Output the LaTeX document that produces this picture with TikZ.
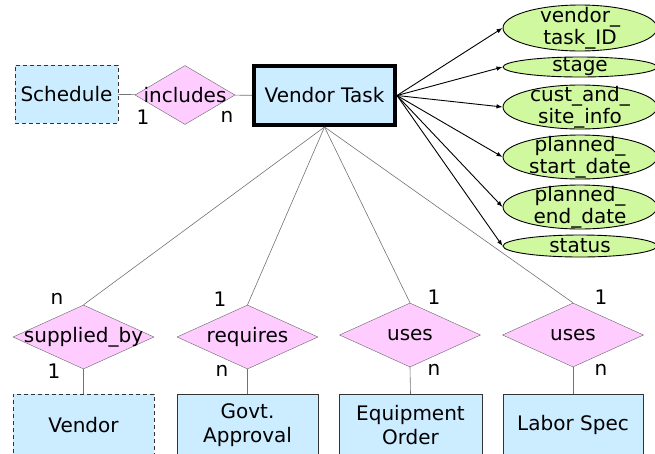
\documentclass[tikz,border=0pt]{standalone}
\usepackage{fontspec}
\setmainfont{DejaVu Sans}
\usetikzlibrary{shapes.geometric,arrows.meta}
\definecolor{entblue}{RGB}{204,236,255}
\definecolor{relpink}{RGB}{255,204,255}
\definecolor{attrgreen}{RGB}{208,248,158}
\begin{document}
\begin{tikzpicture}[x=1pt,y=-1pt,
    every node/.style={font=\fontsize{20}{22}\selectfont},
    entity/.style={rectangle,draw=black!80,fill=entblue,minimum width=141pt,minimum height=62pt,inner sep=0pt,align=center},
    weak/.style={entity,dashed,dash pattern=on 4pt off 3pt},
    rel/.style={diamond,draw=black!60,fill=relpink,minimum width=141pt,minimum height=64pt,inner sep=0pt},
    attr/.style={ellipse,draw=black,line width=0.9pt,fill=attrgreen,minimum width=154pt,inner sep=0pt},
    card/.style={inner sep=0pt},
    link/.style={draw=black!55,line width=0.6pt}]
    \clip (0,0) rectangle (655,453);
    % Draw entities
    \node[weak,minimum width=103pt,minimum height=58pt] (schedule) at (66.5,94) {Schedule};
    \node[entity,draw=black,line width=4pt,minimum width=141pt,minimum height=59pt] (task) at (324.5,95.5) {Vendor Task};
    \node[weak] (vendor) at (83.5,425) {Vendor};
    \node[entity,font=\fontsize{20}{24}\selectfont] (govt) at (247.5,425) {Govt.\\Approval};
    \node[entity,font=\fontsize{20}{24}\selectfont,minimum width=143pt] (equip) at (410.5,425) {Equipment\\Order};
    \node[entity,minimum width=140pt] (labor) at (573,425) {Labor Spec};
    % Draw relationships
    \node[rel,minimum width=100pt,minimum height=59pt,label=center:includes] (includes) at (185,95) {};
    \node[rel,label=center:supplied\_by] (supplied) at (83.5,337) {};
    \node[rel,label=center:requires] (requires) at (247.5,337) {};
    \node[rel,label=center:uses] (usesequip) at (410,335) {};
    \node[rel,label=center:uses] (useslabor) at (573,335) {};
    % Draw attributes
    \node[attr,minimum height=46pt,label={[align=center]center:vendor\_\\task\_ID}] (taskid) at (580,28) {};
    \node[attr,minimum height=20pt,label=center:stage] (stage) at (580,67) {};
    \node[attr,minimum height=44pt,label={[align=center]center:cust\_and\_\\site\_info}] (custinfo) at (580,107) {};
    \node[attr,minimum height=44pt,label={[align=center]center:planned\_\\start\_date}] (startdate) at (580,157) {};
    \node[attr,minimum height=44pt,label={[align=center]center:planned\_\\end\_date}] (enddate) at (580,207) {};
    \node[attr,minimum height=22pt,label=center:status] (status) at (580,246) {};
    % Draw links
    \draw[link] (schedule) -- (includes);
    \draw[link] (includes) -- (task);
    \foreach \r in {supplied,requires,usesequip,useslabor}
        \draw[link] (task.south) -- (\r.north);
    \draw[link] (supplied.south) -- (vendor.north);
    \draw[link] (requires.south) -- (govt.north);
    \draw[link] (usesequip.south) -- (equip.north);
    \draw[link] (useslabor.south) -- (labor.north);
    \foreach \a in {taskid,stage,custinfo,startdate,enddate,status}
        \draw[-{Latex[length=6pt,width=4.5pt]},line width=0.9pt] (task.east) -- (\a.west);
    % Label cardinalities
    \node[card] (c1) at (143,117) {1};
    \node[card] (c2) at (227,117) {n};
    \node[card] (c3) at (57,299) {n};
    \node[card] (c4) at (54,371) {1};
    \node[card] (c5) at (220,299) {1};
    \node[card] (c6) at (222,371) {n};
    \node[card] (c7) at (434,297) {1};
    \node[card] (c8) at (434,370) {n};
    \node[card] (c9) at (601,297) {1};
    \node[card] (c10) at (601,370) {n};
\end{tikzpicture}
\end{document}
